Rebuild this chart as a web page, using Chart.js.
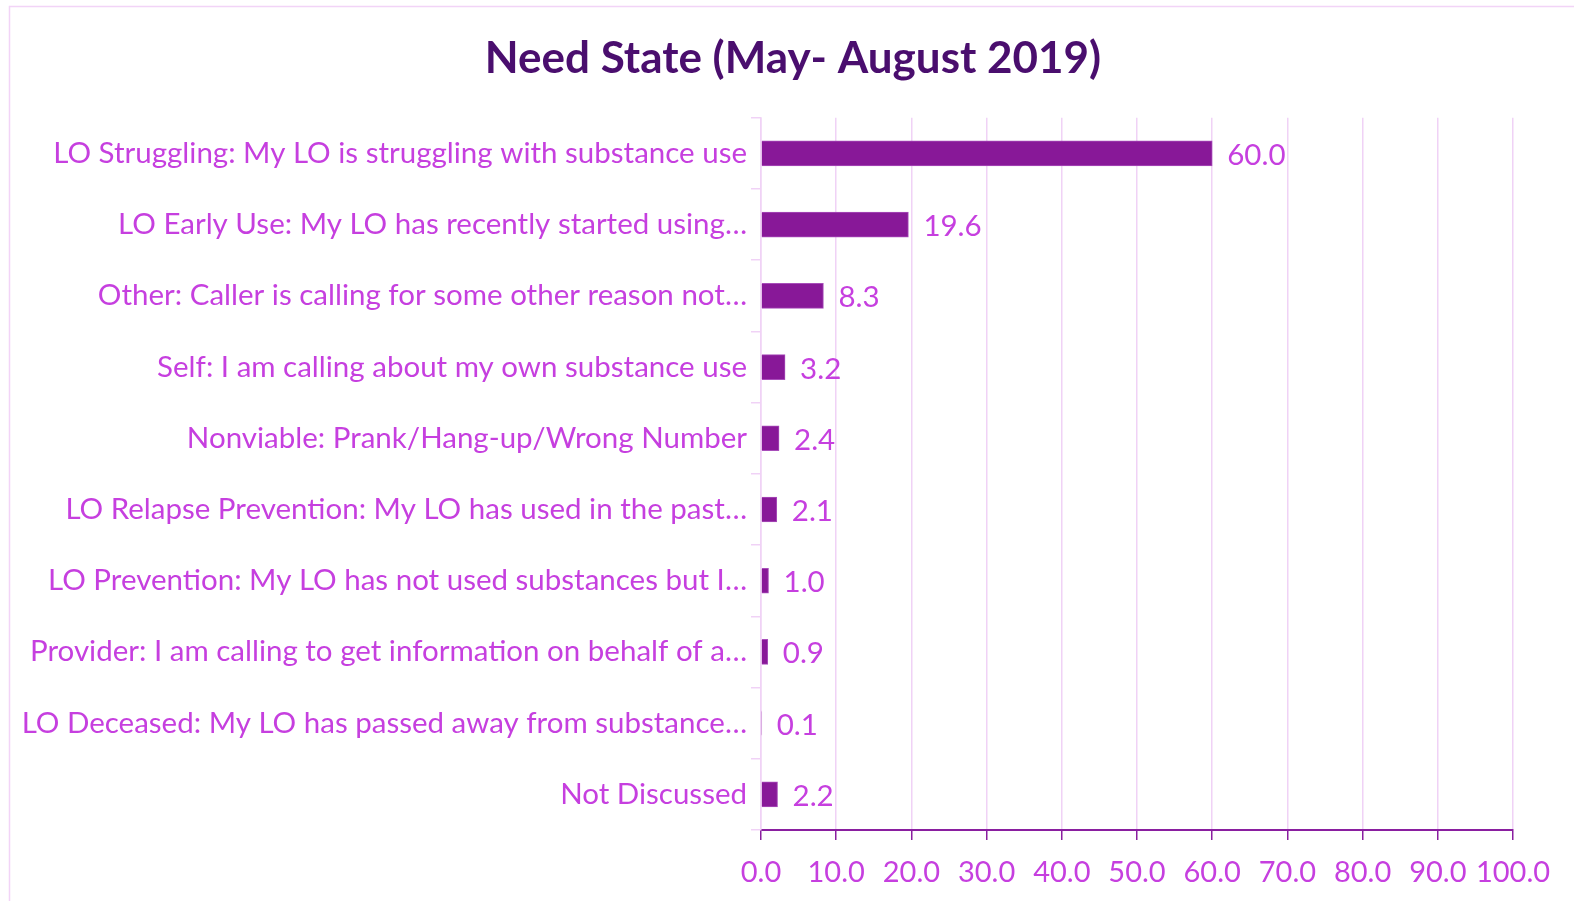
<!DOCTYPE html>
<html>
<head>
<meta charset="utf-8">
<script src="https://cdn.jsdelivr.net/npm/chart.js@4/dist/chart.umd.min.js"></script>
<style>
  html, body { margin: 0; padding: 0; background: #fff; }
  #wrap { width: 1574px; height: 901px; }
</style>
</head>
<body>
<div id="wrap"><canvas id="chartCanvas"></canvas></div>
<script>
const categories = [
    'LO Struggling: My LO is struggling with substance use',
    'LO Early Use: My LO has recently started using…',
    'Other: Caller is calling for some other reason not…',
    'Self: I am calling about my own substance use',
    'Nonviable: Prank/Hang-up/Wrong Number',
    'LO Relapse Prevention: My LO has used in the past…',
    'LO Prevention: My LO has not used substances but I…',
    'Provider: I am calling to get information on behalf of a…',
    'LO Deceased: My LO has passed away from substance…',
    'Not Discussed'
];
const values = [60.0, 19.6, 8.3, 3.2, 2.4, 2.1, 1.0, 0.9, 0.1, 2.2];
const xMin = 0;
const xMax = 100;
const xStep = 10;

const labelColor = '#C63FDF';
const barColor = '#881898';
const lightLine = '#F0D2F6';
const darkLine = '#8A1FA0';
const fontFamily = 'Lato, "Open Sans", sans-serif';
const fontSize = 29.5;

// draws the value next to each bar end
const valueLabels = {
    id: 'valueLabels',
    afterDatasetsDraw(chart) {
        const ctx = chart.ctx;
        const meta = chart.getDatasetMeta(0);
        ctx.save();
        ctx.font = fontSize + 'px ' + fontFamily;
        ctx.fillStyle = labelColor;
        ctx.textAlign = 'left';
        ctx.textBaseline = 'middle';
        meta.data.forEach((bar, i) => {
            ctx.fillText(values[i].toFixed(1), bar.x + 15, bar.y + 2);
        });
        ctx.restore();
    }
};

// thin frame round the chart, and centre the title on the whole canvas
const frame = {
    id: 'frame',
    afterLayout(chart) {
        if (chart.titleBlock) {
            chart.titleBlock.left = 12;
            chart.titleBlock.right = chart.width;
        }
    },
    beforeDraw(chart) {
        const ctx = chart.ctx;
        ctx.save();
        ctx.strokeStyle = '#F2D4F7';
        ctx.lineWidth = 1.5;
        ctx.strokeRect(9.5, 6.5, 1700, 1000);
        ctx.restore();
    }
};

const ctx = document.getElementById('chartCanvas').getContext('2d');
new Chart(ctx, {
    type: 'bar',
    data: {
        labels: categories,
        datasets: [{
            data: values,
            backgroundColor: barColor,
            borderColor: '#A84DBA',
            borderWidth: 1,
            barThickness: 25
        }]
    },
    options: {
        indexAxis: 'y',
        responsive: true,
        maintainAspectRatio: false,
        animation: false,
        layout: { padding: { left: 10, right: 61, top: 0, bottom: 0 } },
        plugins: {
            legend: { display: false },
            tooltip: { enabled: false },
            title: {
                display: true,
                text: 'Need State (May- August 2019)',
                color: '#4A0E6E',
                font: { family: fontFamily, size: 44, weight: 'bold' },
                padding: { top: 32, bottom: 33 }
            }
        },
        scales: {
            x: {
                min: xMin,
                max: xMax,
                afterFit(scale) { scale.height = 71; },
                ticks: {
                    stepSize: xStep,
                    color: labelColor,
                    font: { family: fontFamily, size: 29 },
                    padding: 15,
                    maxRotation: 0,
                    autoSkip: false,
                    callback: (v) => v.toFixed(1)
                },
                grid: {
                    color: lightLine,
                    lineWidth: 1.5,
                    tickColor: darkLine,
                    tickLength: 10
                },
                border: { color: darkLine, width: 2 }
            },
            y: {
                afterFit(scale) { scale.width = 751; },
                ticks: {
                    color: labelColor,
                    font: { family: fontFamily, size: fontSize },
                    padding: 4,
                    autoSkip: false
                },
                grid: {
                    offset: true,
                    drawOnChartArea: false,
                    color: lightLine,
                    lineWidth: 1.5,
                    tickLength: 10
                },
                border: { color: lightLine, width: 1.5 }
            }
        }
    },
    plugins: [frame, valueLabels]
});
</script>
</body>
</html>
